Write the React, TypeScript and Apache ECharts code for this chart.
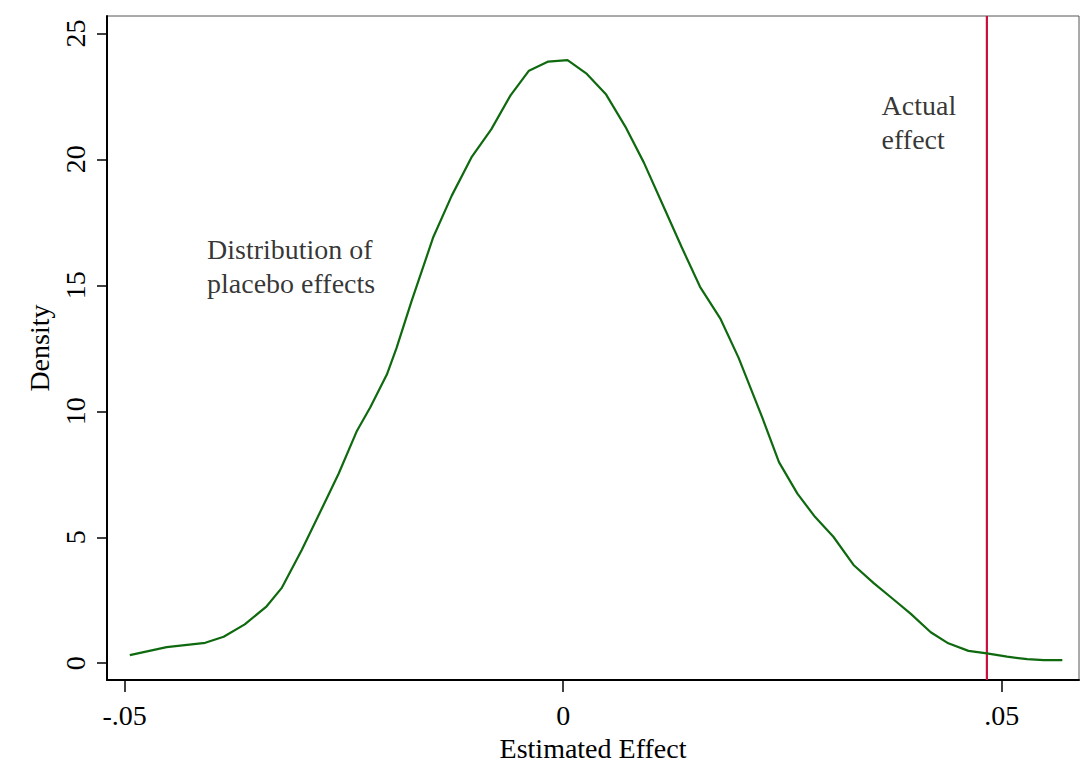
import React, { useEffect, useRef } from "react";
import * as echarts from "echarts";

// Kernel density of placebo effects (x: estimated effect, y: density)
const effectX = [
  -0.0494, -0.0452, -0.0408, -0.0387, -0.0363, -0.0338, -0.0321, -0.0298, -0.0277, -0.0256,
  -0.0235, -0.022, -0.0201, -0.019, -0.0173, -0.0148, -0.0127, -0.0104, -0.0082, -0.006,
  -0.0039, -0.0017, 0.0005, 0.0027, 0.0049, 0.0071, 0.0092, 0.0114, 0.0135, 0.0156,
  0.0179, 0.02, 0.0227, 0.0246, 0.0267, 0.0287, 0.0308, 0.0331, 0.0354, 0.0377,
  0.0396, 0.0419, 0.0439, 0.0462, 0.0483, 0.0506, 0.0529, 0.0548, 0.0569,
];
const densityY = [
  0.32, 0.64, 0.81, 1.05, 1.54, 2.26, 2.98, 4.49, 6.0, 7.52,
  9.23, 10.15, 11.46, 12.51, 14.35, 16.92, 18.56, 20.11, 21.19, 22.54,
  23.52, 23.88, 23.94, 23.39, 22.57, 21.29, 19.87, 18.16, 16.52, 14.94,
  13.69, 12.12, 9.75, 7.98, 6.73, 5.81, 5.02, 3.9, 3.18, 2.52,
  1.97, 1.23, 0.79, 0.49, 0.39, 0.26, 0.16, 0.12, 0.12,
];
const actualEffect = 0.0483;

const xMin = -0.052;
const xMax = 0.0588;
const yMin = -0.67;
const yMax = 25.69;

const xTicks = [-0.05, 0, 0.05];
const xTickLabels = ["-.05", "0", ".05"];
const yTicks = [0, 5, 10, 15, 20, 25];
const yTickLabels = ["0", "5", "10", "15", "20", "25"];

const annotations = [
  { x: -0.0406, y: 15.75, text: "Distribution of\nplacebo effects" },
  { x: 0.0363, y: 21.48, text: "Actual\neffect" },
];

const FONT = "'Liberation Serif', 'Times New Roman', serif";
const FS = 28;

export default function App() {
  const ref = useRef<HTMLDivElement>(null);
  useEffect(() => {
    if (!ref.current) return;
    const chart = echarts.init(ref.current, null, { renderer: "svg" });
    chart.setOption({
      animation: false,
      backgroundColor: "#ffffff",
      grid: {
        left: 107,
        right: 4,
        top: 16,
        bottom: 83,
        show: true,
        borderColor: "#555",
        borderWidth: 1,
        containLabel: false,
      },
      xAxis: {
        type: "value",
        min: xMin,
        max: xMax,
        name: "Estimated Effect",
        nameLocation: "middle",
        nameGap: 44,
        nameTextStyle: { fontFamily: FONT, fontSize: FS, color: "#000" },
        axisLine: { show: true, onZero: false, lineStyle: { color: "#000", width: 2 } },
        axisTick: { show: true, length: 12, customValues: xTicks, lineStyle: { color: "#000", width: 1.5 } },
        axisLabel: {
          customValues: xTicks,
          margin: 21,
          fontFamily: FONT,
          fontSize: FS,
          color: "#000",
          formatter: (v: number) => {
            const i = xTicks.findIndex((t) => Math.abs(t - v) < 1e-9);
            return i >= 0 ? xTickLabels[i] : "";
          },
        },
        splitLine: { show: false },
      },
      yAxis: {
        type: "value",
        min: yMin,
        max: yMax,
        name: "Density",
        nameLocation: "middle",
        nameGap: 48,
        nameRotate: 90,
        nameTextStyle: { fontFamily: FONT, fontSize: FS, color: "#000" },
        axisLine: { show: true, onZero: false, lineStyle: { color: "#000", width: 2 } },
        axisTick: { show: true, length: 10, customValues: yTicks, lineStyle: { color: "#000", width: 1.5 } },
        axisLabel: {
          customValues: yTicks,
          rotate: 90,
          margin: 18,
          fontFamily: FONT,
          fontSize: FS,
          color: "#000",
          formatter: (v: number) => {
            const i = yTicks.findIndex((t) => Math.abs(t - v) < 1e-9);
            return i >= 0 ? yTickLabels[i] : "";
          },
        },
        splitLine: { show: false },
      },
      series: [
        {
          type: "line",
          data: effectX.map((x, i) => [x, densityY[i]]),
          showSymbol: false,
          smooth: false,
          lineStyle: { color: "#0f6a0f", width: 2.2 },
          z: 3,
        },
        {
          type: "line",
          data: [
            [actualEffect, yMin],
            [actualEffect, yMax],
          ],
          showSymbol: false,
          lineStyle: { color: "#c8103c", width: 2.2 },
          z: 2,
        },
        {
          type: "scatter",
          symbolSize: 0,
          silent: true,
          data: annotations.map((a) => ({ value: [a.x, a.y], name: a.text })),
          label: {
            show: true,
            position: "inside",
            align: "left",
            verticalAlign: "middle",
            formatter: (p: any) => p.name,
            fontFamily: FONT,
            fontSize: FS,
            lineHeight: 34,
            color: "#000",
          },
        },
      ],
    });
    return () => chart.dispose();
  }, []);
  return (
    <div
      ref={ref}
      style={{ position: "fixed", left: 0, top: 0, width: 1083, height: 767, background: "#fff" }}
    />
  );
}
